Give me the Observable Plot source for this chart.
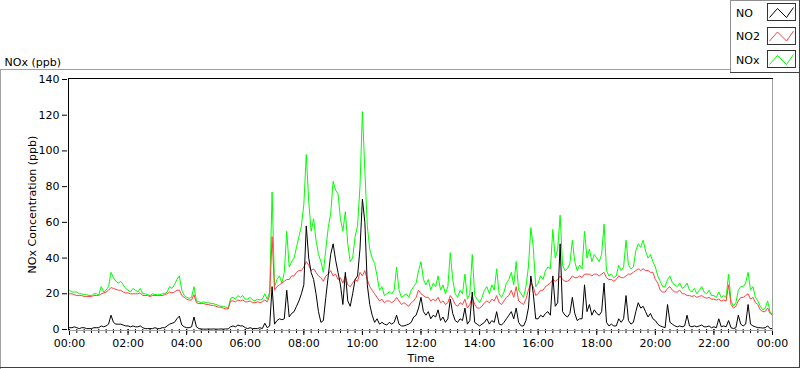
<!DOCTYPE html>
<html><head><meta charset="utf-8">
<script src="https://cdn.jsdelivr.net/npm/d3@7"></script>
<script src="https://cdn.jsdelivr.net/npm/@observablehq/plot@0.6"></script>
<style>
html,body{margin:0;padding:0;background:#fff;}
#chart{width:800px;height:369px;position:relative;overflow:hidden;}
#chart svg{display:block;}
</style></head><body><div id="chart"></div>
<script>
// ---- data (5-minute samples, 00:00 .. 24:00) ----
const seriesNames = ["NO", "NO2", "NOx"];
const seriesColors = ["#000000", "#ff4040", "#00ff00"];
const yTicks = [0, 20, 40, 60, 80, 100, 120, 140];
const xTickLabels = ["00:00","02:00","04:00","06:00","08:00","10:00","12:00","14:00","16:00","18:00","20:00","22:00","00:00"];
const yTitle = "NOx Concentration (ppb)";
const xTitle = "Time";
const chartTitle = "NOx (ppb)";
const sampleMinutes = 5;

const noValues = [
 1,1,1.5,1,0.5,1,1,0.5,0.5,0.5,1,1,
 1,2,1.5,2,3,8,4,3,3,3,2.5,2,
 2,1.5,2,1.5,1.5,2,1,0.5,0.5,0.5,0.5,1,
 0.5,0.5,1,1,2,3,3.5,4,6,7.5,2.5,1.5,
 1,1,1.5,7,1.5,0.5,0.3,0.2,0.2,0.3,0.2,0.3,
 0.2,0.2,0.3,0.2,0.3,0.3,1.5,2,1.5,2.5,2,2,
 1,0.5,1,0.5,0.5,0.5,1,0.5,3.5,1,2,24,
 3,5,6,5.5,6,22,7,9,10,13,16,20,
 25,58,40,32,28,20,10,4,5,18,30,42,
 48,39,32,25,14,32,16,13,20,28,30,45,
 73,60,25,14,8,4,6,3,4,3,2.5,4,
 3,4,8,3,2,2,2.5,3,4,7,8,12,
 18,10,8,10,6,8,7,11,5,7,4,6,
 17,9,5,4,6,5,12,3,5,21,4,3,
 2,3,4,6,3,5,4,10,3,2.5,4,6,
 8,10,6,12,4,2,2,5,12,30,20,6,
 6,8,7,9,10,8,30,13,15,48,10,8,
 7,9,18,9,5,6,6,25,10,14,8,11,
 9,8,10,26,4,2,3,2,2,6,4,6,
 19,5,3,4,10,15,12,13,10,7,9,6,
 5,3,2,1.5,1,14,4,3,2,1.5,2,1.5,
 2,8,2,1.5,2,1.5,2,2.5,1.5,1.5,2,1,
 1.5,1,6,1.5,2,1.5,5,1,0.5,1,8,3,
 2,3,14,3,2,1.5,1,1,0.8,1,2,0.5,
 0.5
];
const no2Values = [
 20,20,19.5,19,19,19,18.5,18.5,18.5,18.5,19,19,
 19,20,20.5,21,22,23.5,23,22.5,22,22,21,20.5,
 20.5,20,20,20,20,20.5,19,19,19,18.5,19,19,
 19,19,19,19.5,20,21,20.5,21,22,22,19,18,
 17,16.5,16.5,19.5,15,14.5,14.5,14.5,14,14,13.5,13.5,
 13,12.5,12.5,12,11.5,11.5,16,16,15.5,16.5,16,16.5,
 15.5,15.5,16,15,15,15.5,15,15.5,16.5,15.5,19,52,
 22,24,25,26,27,28,28,30,30,32,33,33,
 35,38,36,33,34,32,30,29,27,30,31,33,
 30,31,28,29,26,30,25,24,26,28,27,32,
 30,33,28,24,22,20,18,16,17,15,16,16,
 15,16,18,16,14,15,14,13,15,16,18,22,
 20,19,18,18,16,17,16,18,15,16,14,15,
 19,17,14,13,15,14,17,12,14,18,14,12,
 12,13,15,16,15,17,16,19,15,14,16,18,
 19,22,18,24,16,15,14,17,22,26,24,19,
 20,22,22,24,25,26,28,27,28,30,28,27,
 27,28,30,29,29,30,29,31,31,31,30,31,
 31,30,31,32,29,28,28,27,28,30,29,29,
 30,31,31,32,33,34,33,34,33,33,32,32,
 28,26,22,21,21,23,24,22,21,21,22,20,
 20,19,19,18.5,19,18,18.5,19,18,17.5,18,17,
 17,16.5,17,16,16.5,16,25,14,12,13,16,18,
 18,19,20,17,18,15,14,11,10,10,12,9,
 8
];
const noxValues = [
 22,21,21,21,20,20,19.5,19.5,19,19,20,20,
 19.5,24,21,22,24,32,29,27,26,27,25,23,
 22,21,23,22,21,23,20,20,19.5,19,20,19.5,
 19.5,19.5,20,20,21,24,23,25,28,30,22,19,
 18,17.5,18,24,16,15.5,15,15.5,15,15,14.5,14.5,
 14,13.5,13,13,12.5,12,17.5,18,17,19,18,19,
 17,17,18,16.5,16,17,16.5,17,20,17,21,77,
 24,28,30,26,32,55,35,38,40,46,52,58,
 70,98,72,55,62,50,42,38,32,45,57,65,
 83,78,76,62,55,66,48,38,40,52,58,80,
 122,89,58,45,40,37,30,22,24,19,20,21,
 20,22,35,22,18,19,20,18,22,24,26,33,
 38,28,25,28,22,26,24,30,22,25,20,24,
 43,28,20,18,22,20,31,17,20,42,19,17,
 15,18,22,24,20,25,22,34,20,18,21,26,
 28,32,25,38,22,20,18,24,35,57,46,24,
 26,30,28,33,35,34,56,40,45,64,36,33,
 34,37,50,38,33,36,34,55,40,45,38,42,
 40,38,42,59,33,30,31,29,30,36,33,35,
 50,36,34,35,44,48,46,50,44,40,42,38,
 35,30,27,24,24,28,30,26,25,24,26,23,
 24,26,22,21,23,20,22,24,21,20,22,19,
 19,18,21,18,19,18,31,16,13,15,22,24,
 24,26,32,22,24,18,16,13,11,12,16,10,
 8
];

// ---- build tables ----
const t0 = Date.UTC(2000, 0, 1);
const rows = vals => vals.map((v, i) => ({t: new Date(t0 + i * sampleMinutes * 60000), v}));
const seriesRows = [rows(noValues), rows(no2Values), rows(noxValues)];
const xMajor = xTickLabels.map((_, i) => new Date(t0 + i * 2 * 3600000));
const labelMap = new Map(xMajor.map((d, i) => [+d, xTickLabels[i]]));
const xMinor = d3.range(0, 24 * 4 + 1).map(i => new Date(t0 + i * 15 * 60000));

const FONT = "'DejaVu Sans', sans-serif";
const FS = "11px";

const chart = Plot.plot({
  width: 800, height: 369,
  marginLeft: 69, marginRight: 28, marginTop: 79, marginBottom: 40,
  x: {type: "utc", domain: [new Date(t0), new Date(t0 + 24 * 3600000)]},
  y: {domain: [0, 140]},
  style: {fontFamily: FONT, fontSize: FS, color: "#000", background: "#fff"},
  marks: [
    Plot.line(seriesRows[2], {x: "t", y: "v", stroke: seriesColors[2], strokeWidth: 1}),
    Plot.line(seriesRows[1], {x: "t", y: "v", stroke: seriesColors[1], strokeWidth: 1}),
    Plot.line(seriesRows[0], {x: "t", y: "v", stroke: seriesColors[0], strokeWidth: 1}),
    Plot.axisX({ticks: xMinor, tickSize: 4, tickFormat: () => "", label: null}),
    Plot.axisX({ticks: xMajor, tickSize: 6, tickPadding: 4, tickFormat: d => labelMap.get(+d), label: null}),
    Plot.axisY({ticks: yTicks, tickSize: 5, tickPadding: 3, dx: -2, label: null}),
    Plot.text([yTitle], {frameAnchor: "left", dx: -37, rotate: -90, textAnchor: "middle", fill: "#000"}),
    Plot.text([xTitle], {frameAnchor: "bottom", dy: 32, fill: "#000"}),
    Plot.text([chartTitle], {frameAnchor: "top-left", dx: -65, dy: -21, textAnchor: "start", fill: "#000"})
  ]
});
document.getElementById("chart").appendChild(chart);

// ---- frames & legend (decoration) ----
const svg = d3.select(chart);
const [xa, xb] = chart.scale("x").range;
const [ya, yb] = chart.scale("y").range; // ya bottom, yb top
const deco = svg.append("g").attr("fill", "none").attr("shape-rendering", "crispEdges");
// outer panel frame
deco.append("path").attr("d", `M0.5,368.5 V69.5 H730`).attr("stroke", "#a0a0a0");
deco.append("path").attr("d", `M0,367.5 H799.5 V69`).attr("stroke", "#404040");
// plot-area frame: top/left dark, right/bottom gray
deco.append("path").attr("d", `M${xa - 0.5},${ya + 1.5} V${yb - 0.5} H${xb + 0.5}`).attr("stroke", "#000");
deco.append("path").attr("d", `M${xb + 0.5},${yb - 0.5} V${ya + 1.5} H${xa - 1}`).attr("stroke", "#a0a0a0");

// legend
const lg = svg.append("g").attr("shape-rendering", "crispEdges").attr("text-anchor", "start");
lg.append("rect").attr("x", 730.5).attr("y", 0.5).attr("width", 68.5).attr("height", 71.5)
  .attr("fill", "#fff").attr("stroke", "#909090");
lg.append("path").attr("d", "M730,72.5 H799.5 V0").attr("fill", "none").attr("stroke", "#404040");
seriesNames.forEach((name, i) => {
  const cy = 13 + i * 23.5;
  lg.append("text").attr("x", 736).attr("y", cy).attr("dy", "0.35em")
    .attr("text-anchor", "start")
    .attr("font-family", FONT).attr("font-size", FS).attr("fill", "#000").text(name);
  const bx = 767.5, by = cy - 9.5;
  lg.append("rect").attr("x", bx).attr("y", by).attr("width", 28).attr("height", 17)
    .attr("fill", "#fff").attr("stroke", "#333");
  lg.append("polyline")
    .attr("points", [[bx + 2, by + 14], [bx + 10, by + 5], [bx + 19, by + 14], [bx + 26, by + 4]].map(p => p.join(",")).join(" "))
    .attr("fill", "none").attr("stroke", seriesColors[i]).attr("stroke-width", 1)
    .attr("shape-rendering", "auto");
});
</script></body></html>
